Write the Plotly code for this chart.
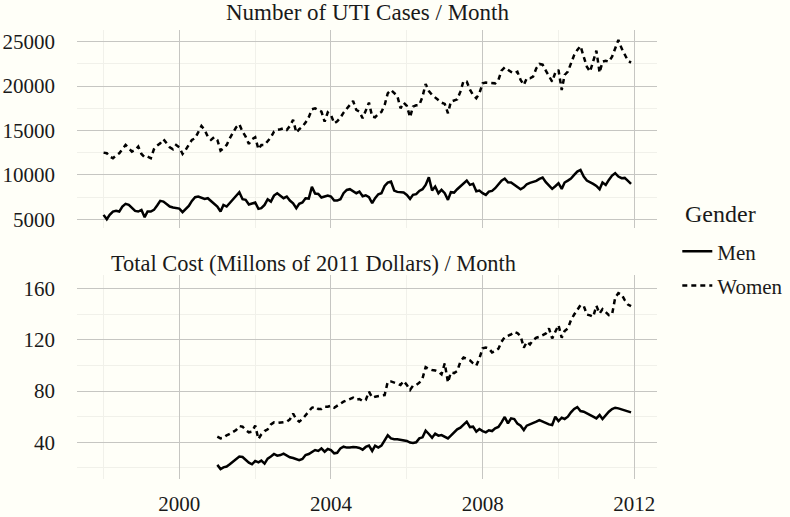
import pandas as pd
import plotly.graph_objects as go
from plotly.subplots import make_subplots

# ---------------- data ----------------
case_months = pd.date_range("1998-01-01", periods=168, freq="MS")
cost_months = pd.date_range("2001-01-01", periods=132, freq="MS")

men_cases = [
    5500, 5000, 5500, 5875, 5950, 5875, 6440, 6740, 6625, 6250, 5950, 5875,
    6060, 5240, 5875, 5875, 6060, 6550, 7075, 7000, 6740, 6440, 6325, 6250,
    6210, 5800, 6175, 6510, 7075, 7490, 7560, 7410, 7300, 7375, 7040, 6740,
    6440, 5875, 6625, 6440, 6810, 7190, 7560, 8050, 7260, 7190, 6660, 6810,
    6890, 6175, 6250, 6625, 7260, 7000, 7675, 7940, 7675, 7375, 7560, 7110,
    6810, 6250, 6740, 6890, 7375, 7340, 8650, 7900, 7860, 7450, 7560, 7675,
    7560, 7110, 7110, 7260, 7940, 8310, 8390, 8200, 7940, 8125, 7600, 7710,
    7490, 6810, 7375, 7825, 7940, 8760, 9140, 9250, 8240, 8090, 8050, 8010,
    7750, 7300, 7750, 7825, 8200, 8390, 8875, 9740, 8240, 8690, 7940, 8310,
    7940, 7190, 8050, 8010, 8390, 8690, 8950, 9360, 8875, 8990, 8160, 8240,
    7940, 7750, 8125, 8200, 8500, 8875, 9360, 9590, 9175, 9140, 8875, 8690,
    8390, 8610, 8950, 9100, 9210, 9325, 9550, 9700, 9175, 8800, 8425, 8725,
    9060, 8425, 9140, 9360, 9590, 10000, 10375, 10560, 9810, 9360, 9210, 8990,
    8760, 8390, 9140, 8875, 9440, 9925, 10190, 9810, 9625, 9660, 9325, 8990,
]

women_cases = [
    12510, 12440, 12060, 11875, 12175, 12440, 12890, 13375, 13000, 12625, 12810, 13190,
    12360, 11990, 12060, 11875, 12890, 13300, 13560, 14010, 13560, 13110, 12890, 13375,
    13110, 12360, 12810, 13375, 13940, 14125, 14875, 15510, 15060, 14310, 13940, 14240,
    13940, 12740, 13000, 13375, 14125, 14690, 15360, 15700, 14875, 14310, 13490, 14010,
    14240, 12890, 13375, 13375, 13860, 14240, 14875, 15060, 15140, 15250, 15060, 15510,
    16190, 14760, 15140, 15440, 15890, 16490, 17390, 17500, 17310, 17125, 16000, 17050,
    16750, 15810, 16040, 16450, 17010, 17500, 17840, 18325, 17310, 17125, 16375, 17310,
    18140, 16560, 16490, 16860, 17090, 17875, 19190, 19560, 19260, 18890, 17500, 18140,
    17760, 16490, 17690, 17840, 17875, 18810, 20240, 19450, 19000, 18740, 18440, 18140,
    17990, 16940, 18250, 18360, 18510, 19375, 20575, 20500, 19600, 19000, 18625, 19190,
    20310, 20390, 20350, 20390, 20310, 20690, 21740, 22110, 21810, 21590, 21440, 21625,
    20690, 20125, 20875, 20875, 21060, 22000, 22490, 22410, 21740, 21060, 20500, 21510,
    21810, 19560, 21250, 21625, 22560, 23500, 24060, 24510, 23310, 22190, 21625, 22750,
    23990, 21510, 22750, 22860, 22750, 23310, 24360, 25190, 24250, 23500, 22860, 22640,
]

men_cost = [
    22.4, 19.2, 20.5, 21.1, 22.9, 24.7, 26.8, 28.9, 28.6, 26.3, 24.2, 22.9,
    25.5, 24.4, 25.7, 23.4, 27.3, 28.9, 30.9, 29.6, 30.1, 31.2, 29.6, 28.3,
    27.8, 27.0, 26.0, 27.0, 30.1, 30.9, 32.2, 34.0, 33.3, 35.3, 32.7, 34.8,
    34.0, 31.4, 31.8, 35.3, 36.6, 35.9, 35.9, 36.4, 36.1, 35.6, 34.3, 36.4,
    37.4, 33.3, 37.4, 35.9, 37.4, 41.8, 45.5, 43.1, 42.4, 42.4, 41.8, 41.6,
    41.1, 39.8, 39.5, 40.0, 43.1, 43.9, 49.1, 46.5, 43.6, 46.8, 45.2, 45.7,
    44.2, 43.1, 45.2, 47.8, 50.1, 51.4, 53.5, 56.1, 51.9, 52.2, 48.3, 50.4,
    48.8, 47.8, 49.4, 48.8, 50.9, 52.0, 55.6, 59.8, 54.8, 58.7, 58.2, 54.6,
    53.0, 49.6, 53.0, 54.0, 54.8, 56.1, 57.4, 56.1, 55.3, 54.0, 53.5, 60.0,
    56.6, 59.2, 58.2, 60.0, 63.4, 66.0, 67.5, 64.4, 63.9, 62.4, 61.3, 60.0,
    58.7, 61.3, 58.2, 61.3, 63.9, 66.0, 67.0, 66.5, 65.7, 64.4, 63.9, 63.4,
]

women_cost = [
    44.4, 43.1, 43.6, 45.5, 46.5, 47.8, 49.6, 52.7, 52.2, 49.6, 47.8, 48.3,
    53.0, 42.6, 46.2, 48.8, 50.1, 54.0, 55.6, 55.1, 55.6, 56.1, 56.1, 57.9,
    62.4, 57.9, 56.1, 58.2, 61.3, 63.9, 67.0, 67.8, 66.0, 66.0, 67.8, 67.8,
    68.6, 67.0, 68.6, 70.1, 71.7, 72.7, 74.0, 74.8, 73.3, 73.8, 72.2, 73.0,
    79.5, 74.8, 75.6, 76.4, 76.6, 76.9, 87.3, 87.5, 86.8, 85.7, 84.7, 87.8,
    84.7, 80.8, 84.2, 84.7, 86.5, 89.9, 98.7, 97.2, 96.4, 96.1, 95.1, 93.0,
    101.6, 86.8, 94.5, 94.0, 95.6, 102.9, 106.2, 105.2, 103.9, 101.6, 99.8, 105.5,
    113.3, 114.0, 113.3, 110.1, 111.2, 113.0, 118.4, 122.1, 123.1, 124.2, 126.2, 125.2,
    122.9, 113.8, 118.4, 116.4, 119.7, 121.6, 122.3, 123.6, 124.9, 128.8, 121.0, 126.2,
    131.4, 121.6, 126.8, 128.8, 135.3, 139.7, 143.1, 147.0, 146.5, 139.7, 139.0, 137.9,
    146.5, 140.5, 143.9, 141.3, 139.2, 139.7, 152.7, 156.4, 155.3, 150.9, 147.5, 146.2,
]

year_ticks = ["2000-01-01", "2004-01-01", "2008-01-01", "2012-01-01"]
year_labels = ["2000", "2004", "2008", "2012"]
year_minor = ["1998-01-01", "2002-01-01", "2006-01-01", "2010-01-01"]
case_ticks = [5000, 10000, 15000, 20000, 25000]
case_minor = [7500, 12500, 17500, 22500]
cost_ticks = [40, 80, 120, 160]
cost_minor = [20, 60, 100, 140]

# ---------------- style ----------------
BG = "#FFFFF8"
GRID = "#C6C6C2"
MINOR = "#F1F1EA"
FONT = "Liberation Serif, DejaVu Serif, serif"
INK = "#1a1a1a"
LW = 2.5
DASH = "5px,4px"

fig = make_subplots(rows=2, cols=1, shared_xaxes=False, vertical_spacing=0.0)

fig.add_trace(go.Scatter(x=case_months, y=men_cases, mode="lines", name="Men",
                         line=dict(color="black", width=LW), legendgroup="men"), row=1, col=1)
fig.add_trace(go.Scatter(x=case_months, y=women_cases, mode="lines", name="Women",
                         line=dict(color="black", width=LW, dash=DASH), legendgroup="women"), row=1, col=1)
fig.add_trace(go.Scatter(x=cost_months, y=men_cost, mode="lines", name="Men", showlegend=False,
                         line=dict(color="black", width=LW), legendgroup="men"), row=2, col=1)
fig.add_trace(go.Scatter(x=cost_months, y=women_cost, mode="lines", name="Women", showlegend=False,
                         line=dict(color="black", width=LW, dash=DASH), legendgroup="women"), row=2, col=1)

xr = ["1997-04-20", "2012-08-07"]
fig.update_xaxes(range=xr, showline=False, zeroline=False, ticks="", automargin=False,
                 tickvals=year_ticks, ticktext=year_labels,
                 showgrid=True, gridcolor=GRID, gridwidth=1.4,
                 minor=dict(tickvals=year_minor, showgrid=True, gridcolor=MINOR, gridwidth=1),
                 tickfont=dict(family=FONT, size=21, color=INK))
fig.update_xaxes(showticklabels=False, row=1, col=1)
fig.update_xaxes(ticklabelstandoff=10, row=2, col=1)

fig.update_yaxes(showline=False, zeroline=False, ticks="", showgrid=True, automargin=False,
                 gridcolor=GRID, gridwidth=1.4, ticklabelstandoff=21,
                 tickfont=dict(family=FONT, size=21, color=INK))
fig.update_yaxes(range=[4020, 26317], tickvals=case_ticks, ticktext=[str(v) for v in case_ticks],
                 minor=dict(tickvals=case_minor, showgrid=True, gridcolor=MINOR, gridwidth=1),
                 row=1, col=1)
fig.update_yaxes(range=[11.4, 170.4], tickvals=cost_ticks, ticktext=[str(v) for v in cost_ticks],
                 minor=dict(tickvals=cost_minor, showgrid=True, gridcolor=MINOR, gridwidth=1),
                 row=2, col=1)

fig.update_layout(
    width=790, height=517,
    margin=dict(l=77, r=133, t=30, b=38, autoexpand=False),
    paper_bgcolor=BG, plot_bgcolor=BG,
    font=dict(family=FONT, color=INK),
    xaxis=dict(domain=[0, 1]), xaxis2=dict(domain=[0, 1]),
    yaxis=dict(domain=[0.559, 1.0]), yaxis2=dict(domain=[0.0, 0.454]),
    showlegend=True,
    legend=dict(
        font=dict(family=FONT, size=21, color=INK),
        x=1.035, xanchor="left", y=0.552, yanchor="top",
        bgcolor="rgba(0,0,0,0)", itemwidth=30, tracegroupgap=4,
    ),
    annotations=[
        dict(text="Number of UTI Cases / Month", xref="paper", yref="paper",
             x=0.5, y=1.040, xanchor="center", yanchor="middle", showarrow=False,
             font=dict(family=FONT, size=23, color=INK)),
        dict(text="Total Cost (Millons of 2011 Dollars) / Month", xref="paper", yref="paper",
             x=0.407, y=0.481, xanchor="center", yanchor="middle", showarrow=False,
             font=dict(family=FONT, size=22.4, color=INK)),
        dict(text="Gender", xref="paper", yref="paper",
             x=1.045, y=0.590, xanchor="left", yanchor="middle", showarrow=False,
             font=dict(family=FONT, size=24, color=INK)),
    ],
)

fig.write_html(
    "out.html",
    config={"displayModeBar": False},
    post_script="document.body.style.margin='0';document.body.style.background='#FFFFF8';",
)
